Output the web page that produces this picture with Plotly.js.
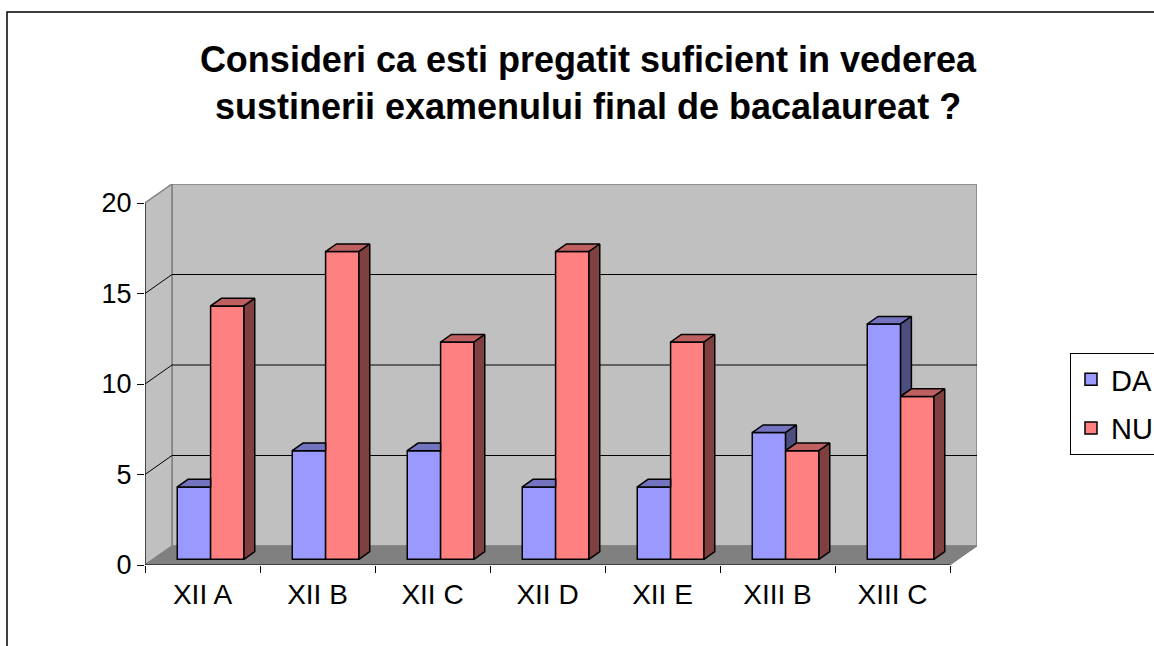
<!DOCTYPE html>
<html>
<head>
<meta charset="utf-8">
<script src="https://cdn.plot.ly/plotly-3.0.1.min.js"></script>
<style>html,body{margin:0;padding:0;background:#fff;}#chart{width:1154px;height:646px;}</style>
</head>
<body>
<div id="chart"></div>
<script>
// ---- data ----
const categories = ['XII A', 'XII B', 'XII C', 'XII D', 'XII E', 'XIII B', 'XIII C'];
const daValues = [4, 6, 6, 4, 4, 7, 13];
const nuValues = [14, 17, 12, 17, 12, 6, 9];
const seriesNames = ['DA', 'NU'];
const yTickVals = [0, 5, 10, 15, 20];
const gridVals = [5, 10, 15];
const titleText = 'Consideri ca esti pregatit suficient in vederea<br>sustinerii examenului final de bacalaureat ?';

// ---- geometry (pixel style constants) ----
const W = 1154, H = 646;
const catPx = 115, depthXPx = 27, depthYPx = 19, yPxPerUnit = 18.1;
const leftPx = 145, bottomPx = 565;
const yMax = 20;
const n = categories.length;
const plotW = n * catPx + depthXPx;
const plotH = yMax * yPxPerUnit + depthYPx;
const dx = depthXPx / catPx;          // depth offset in x data units
const dy = depthYPx / yPxPerUnit;     // depth offset in y data units
const f1 = 0.3, f2 = 0.7;             // bar front/back depth fraction
const bw = 0.29;                      // bar width in category units
const base = f1 * dy;
const ddx = (f2 - f1) * dx, ddy = (f2 - f1) * dy;

const FONT = 'Liberation Sans, Arial, sans-serif';
const colors = {
  daFront: '#9999FF', daTop: '#7373BF', daSide: '#4D4D80',
  nuFront: '#FF8080', nuTop: '#BF6060', nuSide: '#804040'
};

const centers = categories.map((c, i) => i + 0.5 + f1 * dx);
const daX = centers.map(c => c - bw / 2);
const nuX = centers.map(c => c + bw / 2);

// ---- front faces as bars ----
const traces = [
  {type: 'bar', name: seriesNames[0], legendgroup: 'a', x: daX, y: daValues, base: daValues.map(() => base),
   width: bw, marker: {color: colors.daFront, line: {color: '#000', width: 1.5}}, hoverinfo: 'skip'},
  {type: 'bar', name: seriesNames[1], legendgroup: 'b', x: nuX, y: nuValues, base: nuValues.map(() => base),
   width: bw, marker: {color: colors.nuFront, line: {color: '#000', width: 1.5}}, hoverinfo: 'skip'}
];

// ---- 3D top & side faces (computed from data) ----
function poly(pts, xs, ys) { pts.forEach(p => { xs.push(p[0]); ys.push(p[1]); }); xs.push(pts[0][0]); ys.push(pts[0][1]); xs.push(null); ys.push(null); }
const daTopX = [], daTopY = [], daSideX = [], daSideY = [];
const nuTopX = [], nuTopY = [], nuSideX = [], nuSideY = [];
for (let i = 0; i < n; i++) {
  let xl = daX[i] - bw / 2, xr = daX[i] + bw / 2, yt = daValues[i] + base;
  const redTop = nuValues[i] + base;
  if (daValues[i] < nuValues[i]) {
    poly([[xl, yt], [xr, yt], [xr, yt + ddy], [xl + ddx, yt + ddy]], daTopX, daTopY);
  } else {
    poly([[xl, yt], [xr, yt], [xr + ddx, yt + ddy], [xl + ddx, yt + ddy]], daTopX, daTopY);
    poly([[xr, redTop], [xr, yt], [xr + ddx, yt + ddy], [xr + ddx, redTop + ddy]], daSideX, daSideY);
  }
  xl = nuX[i] - bw / 2; xr = nuX[i] + bw / 2; yt = nuValues[i] + base;
  poly([[xl, yt], [xr, yt], [xr + ddx, yt + ddy], [xl + ddx, yt + ddy]], nuTopX, nuTopY);
  poly([[xr, base], [xr, yt], [xr + ddx, yt + ddy], [xr + ddx, base + ddy]], nuSideX, nuSideY);
}
function face(xs, ys, col) {
  return {type: 'scatter', mode: 'lines', x: xs, y: ys, fill: 'toself', fillcolor: col,
          line: {color: '#000', width: 1.5}, showlegend: false, hoverinfo: 'skip', connectgaps: false};
}
traces.push(face(daTopX, daTopY, colors.daTop));
traces.push(face(daSideX, daSideY, colors.daSide));
traces.push(face(nuTopX, nuTopY, colors.nuTop));
traces.push(face(nuSideX, nuSideY, colors.nuSide));

// ---- walls, floor, gridlines ----
const shapes = [];
shapes.push({type: 'rect', xref: 'x', yref: 'y', x0: dx, x1: n + dx, y0: dy, y1: yMax + dy,
  fillcolor: '#C0C0C0', line: {color: '#808080', width: 1.5}, layer: 'below'});
shapes.push({type: 'path', xref: 'x', yref: 'y', layer: 'below',
  path: `M0,0 L0,${yMax} L${dx},${yMax + dy} L${dx},${dy} Z`,
  fillcolor: '#C0C0C0', line: {color: '#808080', width: 1.5}});
shapes.push({type: 'path', xref: 'x', yref: 'y', layer: 'below',
  path: `M0,0 L${n},0 L${n + dx},${dy} L${dx},${dy} Z`,
  fillcolor: '#808080', line: {color: '#808080', width: 1}});
gridVals.forEach(v => {
  shapes.push({type: 'line', xref: 'x', yref: 'y', x0: dx, x1: n + dx, y0: v + dy, y1: v + dy,
    line: {color: '#000', width: 1}, layer: 'below'});
  shapes.push({type: 'line', xref: 'x', yref: 'y', x0: 0, x1: dx, y0: v, y1: v + dy,
    line: {color: '#000', width: 1}, layer: 'below'});
});
shapes.push({type: 'line', xref: 'x', yref: 'y', x0: 0, x1: 0, y0: 0, y1: yMax, line: {color: '#000', width: 1}});
shapes.push({type: 'line', xref: 'x', yref: 'y', x0: 0, x1: n, y0: 0, y1: 0, line: {color: '#000', width: 1}});
shapes.push({type: 'rect', xref: 'paper', yref: 'paper',
  x0: (7 - leftPx) / plotW, x1: (W + 10 - leftPx) / plotW,
  y0: (bottomPx - H - 10) / plotH, y1: (bottomPx - 12) / plotH,
  line: {color: '#000', width: 1.5}, fillcolor: 'rgba(0,0,0,0)', layer: 'below'});

const layout = {
  width: W, height: H,
  paper_bgcolor: '#fff', plot_bgcolor: 'rgba(0,0,0,0)',
  margin: {l: leftPx, r: W - leftPx - plotW, t: bottomPx - plotH, b: H - bottomPx, pad: 0, autoexpand: false},
  barmode: 'overlay',
  showlegend: true,
  title: {text: '<b>' + titleText + '</b>', font: {family: FONT, size: 36, color: '#000'},
    xref: 'container', yref: 'container', x: 588 / W, xanchor: 'center', y: 1 - 72 / H, yanchor: 'top'},
  xaxis: {range: [0, n + dx], tickmode: 'array', tickvals: categories.map((c, i) => i + 0.5), ticktext: categories,
    ticks: '', showgrid: false, zeroline: false, showline: false, ticklabelstandoff: 10,
    tickfont: {family: FONT, size: 28, color: '#000'}, fixedrange: true,
    minor: {tickmode: 'array', tickvals: categories.map((c, i) => i).concat([n]), ticks: 'outside', ticklen: 7, tickcolor: '#000', tickwidth: 1, showgrid: false}},
  yaxis: {range: [0, yMax + dy], tickmode: 'array', tickvals: yTickVals, ticks: 'outside', ticklen: 7,
    tickcolor: '#000', tickwidth: 1, showgrid: false, zeroline: false, showline: false,
    tickfont: {family: FONT, size: 27, color: '#000'}, fixedrange: true},
  legend: {xref: 'container', yref: 'container', x: 1070 / W, y: 1 - 353 / H, xanchor: 'left', yanchor: 'top',
    bgcolor: '#fff', bordercolor: '#000', borderwidth: 1, font: {family: FONT, size: 29, color: '#000'},
    traceorder: 'grouped', tracegroupgap: 8},
  shapes: shapes
};

Plotly.newPlot('chart', traces, layout, {staticPlot: true, displayModeBar: false});
</script>
</body>
</html>
